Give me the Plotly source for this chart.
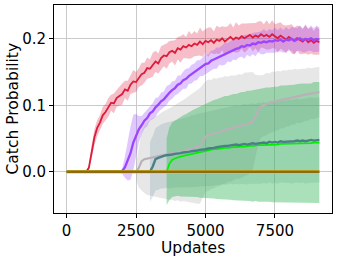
import plotly.graph_objects as go

# ---------------- data ----------------
STEP = 100
END = 9100

red_start = 700
red_mean = [0.000,0.006,0.030,0.052,0.066,0.074,0.085,0.090,0.097,0.104,
            0.103,0.111,0.114,0.117,0.124,0.122,0.131,0.136,0.135,0.142,
            0.147,0.149,0.156,0.155,0.161,0.166,0.163,0.171,0.175,0.174,
            0.180,0.182,0.179,0.186,0.184,0.189,0.187,0.191,0.189,0.193,
            0.191,0.196,0.192,0.197,0.195,0.198,0.194,0.199,0.197,0.201,
            0.196,0.200,0.203,0.199,0.202,0.200,0.204,0.201,0.203,0.206,
            0.202,0.205,0.203,0.207,0.204,0.206,0.203,0.207,0.204,0.201,
            0.205,0.202,0.199,0.203,0.200,0.197,0.201,0.198,0.196,0.200,
            0.195,0.198,0.194,0.197,0.195]
red_std = [0.000,0.004,0.009,0.012,0.012,0.011,0.013,0.012,0.014,0.012,
           0.015,0.013,0.014,0.016,0.013,0.015,0.014,0.017,0.015,0.014,
           0.017,0.015,0.016,0.014,0.018,0.016,0.015,0.018,0.016,0.019,
           0.017,0.016,0.019,0.017,0.020,0.018,0.016,0.021,0.018,0.019,
           0.017,0.021,0.019,0.018,0.022,0.019,0.017,0.021,0.020,0.018,
           0.022,0.019,0.021,0.018,0.023,0.020,0.019,0.022,0.020,0.018,
           0.021,0.019,0.023,0.020,0.018,0.022,0.019,0.021,0.018,0.022,
           0.020,0.019,0.021,0.018,0.022,0.020,0.019,0.021,0.018,0.022,
           0.019,0.020,0.018,0.021,0.019]

purple_start = 1900
purple_mean = [0.000,0.001,0.007,0.017,0.028,0.044,0.055,0.064,0.070,0.077,
               0.081,0.088,0.091,0.097,0.101,0.106,0.109,0.115,0.119,0.123,
               0.126,0.131,0.133,0.138,0.140,0.144,0.147,0.150,0.153,0.156,
               0.158,0.162,0.163,0.167,0.169,0.171,0.174,0.175,0.178,0.180,
               0.181,0.184,0.185,0.186,0.189,0.188,0.191,0.190,0.193,0.192,
               0.195,0.194,0.196,0.195,0.197,0.196,0.198,0.197,0.199,0.196,
               0.199,0.198,0.200,0.197,0.199,0.201,0.198,0.200,0.199,0.201,
               0.198,0.200,0.199]
purple_std = [0.000,0.004,0.016,0.030,0.040,0.042,0.032,0.020,0.014,0.012,
              0.013,0.011,0.012,0.014,0.011,0.013,0.012,0.014,0.012,0.013,
              0.011,0.014,0.012,0.013,0.015,0.012,0.014,0.013,0.015,0.012,
              0.014,0.016,0.013,0.015,0.014,0.016,0.013,0.015,0.017,0.014,
              0.016,0.015,0.017,0.014,0.016,0.018,0.015,0.017,0.016,0.018,
              0.015,0.017,0.019,0.016,0.018,0.017,0.019,0.016,0.018,0.017,
              0.019,0.016,0.018,0.020,0.017,0.019,0.018,0.020,0.017,0.019,
              0.018,0.020,0.018]

gray_start = 2500
gray_mean = [0.000,0.006,0.016,0.019,0.020,0.021,0.022,0.023,0.023,0.025,
             0.025,0.026,0.027,0.028,0.028,0.030,0.030,0.032,0.033,0.034,
             0.035,0.036,0.037,0.039,0.046,0.053,0.055,0.056,0.058,0.059,
             0.060,0.062,0.063,0.064,0.065,0.066,0.067,0.068,0.069,0.071,
             0.072,0.073,0.076,0.083,0.093,0.098,0.100,0.102,0.103,0.105,
             0.106,0.107,0.108,0.109,0.110,0.111,0.112,0.113,0.114,0.114,
             0.115,0.116,0.117,0.118,0.118,0.119,0.120]
gray_std = [0.012,0.030,0.044,0.051,0.055,0.057,0.059,0.061,0.062,0.064,
            0.066,0.067,0.069,0.070,0.072,0.073,0.075,0.076,0.078,0.080,
            0.081,0.083,0.085,0.087,0.085,0.083,0.084,0.082,0.083,0.081,
            0.082,0.080,0.081,0.079,0.080,0.079,0.078,0.079,0.077,0.078,
            0.077,0.076,0.074,0.063,0.052,0.047,0.046,0.047,0.045,0.046,
            0.044,0.045,0.043,0.044,0.042,0.043,0.041,0.042,0.040,0.041,
            0.040,0.039,0.040,0.038,0.039,0.038,0.038]

teal_start = 3000
teal_mean = [0.000,0.008,0.019,0.021,0.023,0.024,0.025,0.025,0.026,0.027,
             0.027,0.028,0.029,0.029,0.030,0.031,0.031,0.032,0.033,0.033,
             0.034,0.035,0.035,0.036,0.037,0.038,0.038,0.039,0.039,0.040,
             0.040,0.041,0.040,0.041,0.042,0.041,0.042,0.043,0.042,0.043,
             0.043,0.044,0.043,0.045,0.044,0.045,0.044,0.046,0.045,0.045,
             0.046,0.045,0.046,0.047,0.046,0.047,0.046,0.047,0.048,0.047,
             0.048,0.048]
teal_std = [0.045,0.046,0.047,0.048,0.048,0.049,0.049,0.050,0.050,0.051,
            0.051,0.052,0.052,0.053,0.053,0.054,0.054,0.055,0.055,0.055,
            0.056,0.056,0.056,0.057,0.057,0.057,0.058,0.058,0.058,0.058,
            0.059,0.059,0.059,0.059,0.060,0.060,0.060,0.060,0.060,0.061,
            0.061,0.061,0.061,0.061,0.062,0.062,0.062,0.062,0.062,0.062,
            0.063,0.063,0.063,0.063,0.063,0.063,0.064,0.064,0.064,0.064,
            0.064,0.064]

green_start = 3600
green_mean = [0.000,0.012,0.018,0.020,0.022,0.023,0.024,0.025,0.026,0.027,
              0.028,0.029,0.030,0.031,0.032,0.032,0.033,0.034,0.034,0.035,
              0.035,0.036,0.036,0.037,0.037,0.037,0.038,0.038,0.038,0.039,
              0.039,0.039,0.040,0.040,0.040,0.040,0.041,0.041,0.041,0.041,
              0.041,0.042,0.042,0.042,0.042,0.042,0.042,0.043,0.043,0.043,
              0.043,0.043,0.043,0.044,0.044,0.044]
green_std = [0.050,0.055,0.056,0.057,0.058,0.060,0.061,0.062,0.064,0.065,
             0.066,0.067,0.069,0.070,0.071,0.072,0.073,0.074,0.075,0.076,
             0.077,0.078,0.078,0.079,0.080,0.080,0.081,0.082,0.082,0.083,
             0.083,0.084,0.084,0.085,0.085,0.086,0.086,0.086,0.087,0.087,
             0.087,0.088,0.088,0.088,0.089,0.089,0.089,0.089,0.090,0.090,
             0.090,0.090,0.090,0.091,0.091,0.091]

zero_x = [0, 9100]
zero_y = [0.0, 0.0]

x_ticks = [0, 2500, 5000, 7500]
x_tick_text = ["0", "2500", "5000", "7500"]
y_ticks = [0.0, 0.1, 0.2]
y_tick_text = ["0.0", "0.1", "0.2"]
x_title = "Updates"
y_title = "Catch Probability"

# ---------------- figure ----------------
series = [
    # start, mean, std, line colour, band colour, line width
    (red_start, red_mean, red_std, "#dc1c3a", "rgba(220,20,60,0.28)", 1.8),
    (purple_start, purple_mean, purple_std, "#9b45ff", "rgba(155,69,255,0.30)", 2.3),
    (gray_start, gray_mean, gray_std, "#bab0b8", "rgba(170,170,170,0.28)", 2.2),
    (teal_start, teal_mean, teal_std, "#4a7f88", "rgba(74,127,136,0.18)", 2.4),
    (green_start, green_mean, green_std, "#00f000", "rgba(60,185,95,0.43)", 1.8),
]

fig = go.Figure()

for start, mean, std, lc, bc, lw in series:
    xs = list(range(start, END + 1, STEP))
    assert len(xs) == len(mean) == len(std), (start, len(xs), len(mean), len(std))
    upper = [m + s for m, s in zip(mean, std)]
    lower = [m - s for m, s in zip(mean, std)]
    fig.add_trace(go.Scatter(x=xs + xs[::-1], y=upper + lower[::-1], fill="toself",
                             fillcolor=bc, line=dict(width=0), mode="lines",
                             hoverinfo="skip", showlegend=False))

line_order = [0, 1, 2, 4, 3]
for i in line_order:
    start, mean, std, lc, bc, lw = series[i]
    xs = [0] + list(range(start, END + 1, STEP))
    ys = [0.0] + mean
    fig.add_trace(go.Scatter(x=xs, y=ys, mode="lines", line=dict(color=lc, width=lw),
                             showlegend=False))

fig.add_trace(go.Scatter(x=zero_x, y=zero_y, mode="lines",
                         line=dict(color="#e3cf00", width=3.2), showlegend=False))
fig.add_trace(go.Scatter(x=zero_x, y=zero_y, mode="lines",
                         line=dict(color="#8f6a16", width=2.6), showlegend=False))

axis_common = dict(showline=True, mirror=True, linecolor="black", linewidth=1,
                   ticks="outside", ticklen=4, tickwidth=1, tickcolor="black",
                   showgrid=True, gridcolor="#cacaca", gridwidth=1, zeroline=False,
                   tickfont=dict(size=15, color="black"))

fig.update_layout(
    width=338, height=258,
    margin=dict(l=54, r=6, t=5, b=45),
    paper_bgcolor="white", plot_bgcolor="white",
    font=dict(family="DejaVu Sans", size=15.5, color="black"),
    showlegend=False,
    xaxis=dict(range=[-455, 9555], tickvals=x_ticks, ticktext=x_tick_text, **axis_common),
    yaxis=dict(range=[-0.062, 0.251], tickvals=y_ticks, ticktext=y_tick_text, **axis_common),
    annotations=[
        dict(text=x_title, xref="paper", yref="paper", x=0.5, y=(213 - 247.5) / 208,
             xanchor="center", yanchor="middle", showarrow=False, borderpad=0,
             font=dict(size=15.5)),
        dict(text=y_title, xref="paper", yref="paper", x=(12.5 - 54) / 278, y=0.5,
             xanchor="center", yanchor="middle", showarrow=False, textangle=-90,
             borderpad=0, font=dict(size=15.5)),
    ],
)

fig.write_html("out.html", config={"displayModeBar": False},
               post_script="document.body.style.margin='0px';")
